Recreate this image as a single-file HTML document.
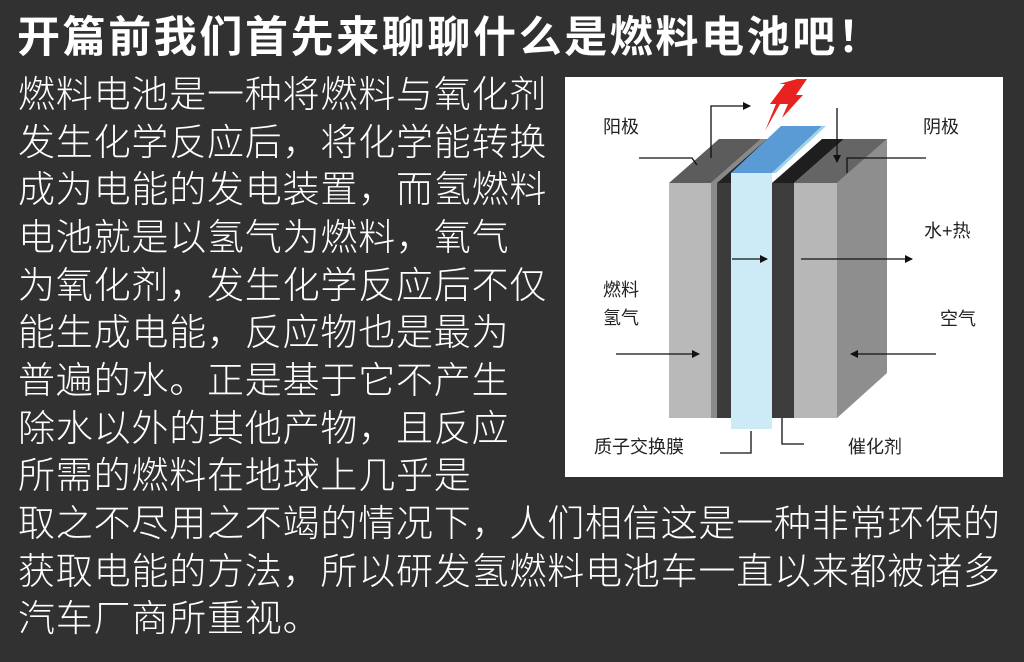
<!DOCTYPE html>
<html><head><meta charset="utf-8"><style>
body{margin:0;width:1024px;height:662px;background:#313131;overflow:hidden;position:relative;font-family:"Liberation Sans","Noto Sans CJK SC",sans-serif;color:#fff}
.t{position:absolute;left:17px;top:13px;font-size:43px;font-weight:bold;line-height:50px;white-space:nowrap;letter-spacing:2.6px}
.l{position:absolute;left:18px;font-size:37px;line-height:40px;white-space:nowrap;letter-spacing:0.8px;font-weight:300}
svg{position:absolute;left:0;top:0}
</style></head><body>
<div class="t">开篇前我们首先来聊聊什么是燃料电池吧！</div>
<div class="l" style="top:75px">燃料电池是一种将燃料与氧化剂</div>
<div class="l" style="top:123px">发生化学反应后，将化学能转换</div>
<div class="l" style="top:170px">成为电能的发电装置，而氢燃料</div>
<div class="l" style="top:218px">电池就是以氢气为燃料，氧气</div>
<div class="l" style="top:266px">为氧化剂，发生化学反应后不仅</div>
<div class="l" style="top:313px">能生成电能，反应物也是最为</div>
<div class="l" style="top:361px">普遍的水。正是基于它不产生</div>
<div class="l" style="top:409px">除水以外的其他产物，且反应</div>
<div class="l" style="top:456px">所需的燃料在地球上几乎是</div>
<div class="l" style="top:504px">取之不尽用之不竭的情况下，人们相信这是一种非常环保的</div>
<div class="l" style="top:552px">获取电能的方法，所以研发氢燃料电池车一直以来都被诸多</div>
<div class="l" style="top:599px">汽车厂商所重视。</div>
<svg width="1024" height="662" viewBox="0 0 1024 662">
<defs><marker id="a" markerWidth="8" markerHeight="8" refX="7" refY="4" orient="auto" markerUnits="userSpaceOnUse"><path d="M0,0 L8,4 L0,8 z" fill="#111"/></marker></defs>
<rect x="565" y="77" width="438" height="400" fill="#fff"/>
<polygon points="837,183 887,139 887,373 837,418" fill="#8e8e8e"/>
<polygon points="669,183 711,183 761,139 719,139" fill="#5c5c5c"/>
<polygon points="711,183 717,183 767,139 761,139" fill="#888"/>
<polygon points="717,183 731,183 781,139 767,139" fill="#222"/>
<polygon points="772,183 794,183 844,139 822,139" fill="#1e1e1e"/>
<polygon points="794,183 837,183 887,139 844,139" fill="#656565"/>
<polygon points="731,173 772,173 822,126 781,126" fill="#5b9bd5"/>
<polygon points="772,173 776,173 826,126 822,126" fill="#9fd4e8"/>
<rect x="669" y="183" width="42" height="235" fill="#b9b9b9"/>
<rect x="711" y="183" width="6" height="235" fill="#8a8a8a"/>
<rect x="717" y="183" width="14" height="235" fill="#3b3b3b"/>
<rect x="731" y="173" width="41" height="256" fill="#cdeaf7"/>
<rect x="772" y="183" width="22" height="235" fill="#3c3c3c"/>
<rect x="794" y="183" width="43" height="235" fill="#b7b7b7"/>
<polygon points="797,79 807,79 796,95 803,95 782,118 788,104 780,104 765,131 776,104 770,104 785,84 779,84" fill="#e8231f"/>
<g stroke="#111" stroke-width="1.3" fill="none">
<path d="M639,158 L692,158 L697,165"/>
<path d="M711,158 L711,106 L750,106" marker-end="url(#a)"/>
<path d="M837,108 L837,162" marker-end="url(#a)"/>
<path d="M926,158 L847,158 L847,173"/>
<path d="M732,259 L767,259" marker-end="url(#a)"/>
<path d="M801,259 L912,259" marker-end="url(#a)"/>
<path d="M616,354 L699,354" marker-end="url(#a)"/>
<path d="M936,354 L851,354" marker-end="url(#a)"/>
<path d="M720,453 L751,453 L751,431"/>
<path d="M782,418 L782,444 L804,444"/>
</g>
<g font-family="Liberation Sans,Noto Sans CJK SC,sans-serif" font-size="18" fill="#222">
<text x="603" y="133">阳极</text>
<text x="923" y="133">阴极</text>
<text x="924" y="237">水+热</text>
<text x="603" y="296">燃料</text>
<text x="603" y="324">氢气</text>
<text x="940" y="325">空气</text>
<text x="594" y="453">质子交换膜</text>
<text x="848" y="453">催化剂</text>
</g>
</svg>
</body></html>
